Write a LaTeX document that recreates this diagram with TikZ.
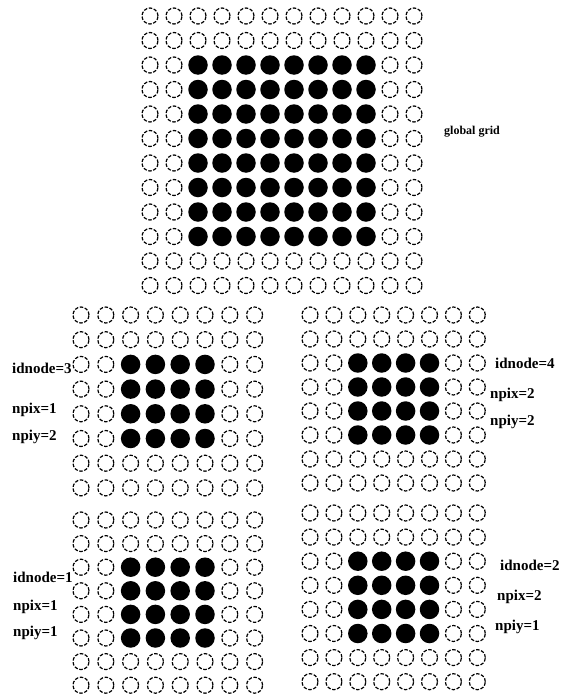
\documentclass[tikz,border=0pt]{standalone}
\usepackage{fontspec}
\setmainfont{Liberation Serif}
\begin{document}
\begin{tikzpicture}[
  x=1pt, y=-1pt,
  p0/.style={circle, draw, dash pattern=on 3.5pt off 1.6pt, line width=1.2pt, minimum size=16pt, inner sep=0pt},
  p1/.style={circle, fill, minimum size=19.5pt, inner sep=0pt},
  tag/.style={anchor=west, inner sep=0pt, font=\bfseries\fontsize{15}{17}\selectfont}
]
  \useasboundingbox (0,0) rectangle (560,699);
  % global grid, 12 x 12
  \foreach \i in {0,...,11}
    \foreach \j in {0,...,11} {
      \pgfmathtruncatemacro{\f}{and(and(\i>1,\i<10),and(\j>1,\j<10))}
      \node[p\f] (g-\i-\j) at ({150+24*\i},{16+24.5*\j}) {};
    }
  \node[tag, font=\bfseries\fontsize{12}{14}\selectfont] (glob) at (444,132) {global grid};

  % the four node grids, 8 x 8
  \foreach \nm/\ox/\oy/\dx/\dy in {a/81/315/24.8/24.7, b/310/315/23.9/24, c/81/520/24.8/23.6, d/310/513/23.9/24.1}
    \foreach \i in {0,...,7}
      \foreach \j in {0,...,7} {
        \pgfmathtruncatemacro{\f}{and(and(\i>1,\i<6),and(\j>1,\j<6))}
        \node[p\f] (\nm-\i-\j) at ({\ox+\dx*\i},{\oy+\dy*\j}) {};
      }

  \node[tag] (id3) at (12,368) {idnode=3};
  \node[tag] (px3) at (12,410) {npix=1};
  \node[tag] (py3) at (12,437) {npiy=2};

  \node[tag] (id4) at (495,363) {idnode=4};
  \node[tag] (px4) at (490,395) {npix=2};
  \node[tag] (py4) at (490,422) {npiy=2};

  \node[tag] (id1) at (13,577) {idnode=1};
  \node[tag] (px1) at (13,607) {npix=1};
  \node[tag] (py1) at (13,633) {npiy=1};

  \node[tag] (id2) at (500,565) {idnode=2};
  \node[tag] (px2) at (497,597) {npix=2};
  \node[tag] (py2) at (495,627) {npiy=1};
\end{tikzpicture}
\end{document}
